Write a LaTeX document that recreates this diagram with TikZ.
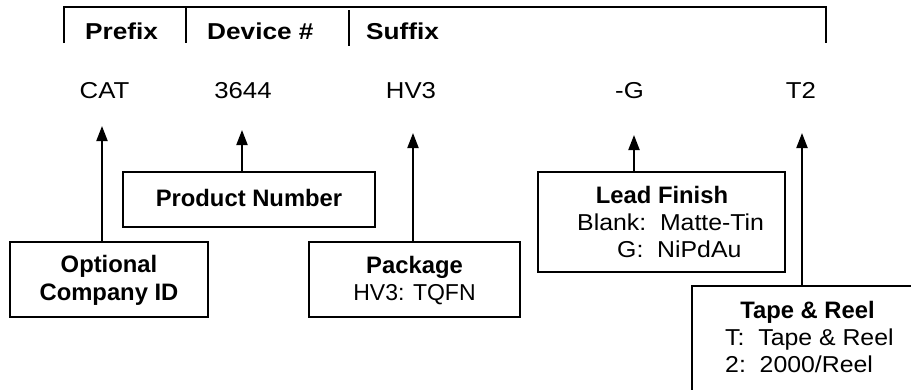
\documentclass[tikz,border=0pt]{standalone}
\usepackage{fontspec}
\setmainfont{Liberation Sans}
\newfontfamily\codefont[FakeStretch=1.12]{Liberation Sans}
\newfontfamily\hdrfont[FakeStretch=1.14]{Liberation Sans}
\newfontfamily\wfont[FakeStretch=1.08]{Liberation Sans}
\usetikzlibrary{arrows.meta}
\tikzset{
  boxnode/.style={draw=black, line width=2pt, rectangle, inner sep=0pt},
  code/.style={anchor=base, inner sep=0pt, font=\fontsize{23}{27}\codefont},
  txt/.style={anchor=base, inner sep=0pt, font=\fontsize{23}{27}\selectfont},
  txtl/.style={anchor=base west, inner sep=0pt, font=\fontsize{23}{27}\wfont},
  hdr/.style={anchor=base west, inner sep=0pt, font=\fontsize{23}{27}\hdrfont\bfseries},
  bold/.style={anchor=base, inner sep=0pt, font=\fontsize{23.8}{27}\selectfont\bfseries},
  arr/.style={line width=2pt, -{Triangle[width=11pt,length=15pt]}},
  bracket/.style={line width=2pt}
}
\begin{document}
\begin{tikzpicture}[x=1pt,y=-1pt]
\clip (0,0) rectangle (911,389);
\fill[white] (0,0) rectangle (911,389);
% header bracket
\draw[bracket] (64,43) -- (64,7) -- (826,7) -- (826,43);
\draw[bracket] (186,8) -- (186,43);
\draw[bracket] (349,10) -- (349,46);
\node[hdr] (hprefix) at (85,39) {Prefix};
\node[hdr] (hdevice) at (207,39) {Device \#};
\node[hdr] (hsuffix) at (366,39) {Suffix};
% codes
\node[code] (cat) at (104.5,98) {CAT};
\node[code] (num) at (243,98) {3644};
\node[code] (hv) at (411,98) {HV3};
\node[code] (g) at (629.5,98) {-G};
\node[code] (t2) at (801,98) {T2};
% arrow tips
\coordinate (tcat) at (102,126);
\coordinate (tnum) at (242,130);
\coordinate (thv) at (413,133);
\coordinate (tg) at (634,135);
\coordinate (tt2) at (802,133);
% boxes
\node[boxnode, minimum width=198pt, minimum height=75pt] (ocbox) at (109,279.5) {};
\node[boxnode, minimum width=252pt, minimum height=55pt] (pnbox) at (249,199.5) {};
\node[boxnode, minimum width=211pt, minimum height=75pt] (pkbox) at (414.5,279.5) {};
\node[boxnode, minimum width=247pt, minimum height=100pt] (lfbox) at (661.5,222) {};
\node[boxnode, minimum width=240pt, minimum height=130pt] (trbox) at (812,351) {};
% box texts
\node[bold] (oc1) at (109,272) {Optional};
\node[bold] (oc2) at (109,300) {Company ID};
\node[bold] (pn1) at (249,206) {Product Number};
\node[bold] (pk1) at (414.5,273) {Package};
\node[txt] (pk2) at (414.5,300) {HV3: TQFN};
\node[bold] (lf1) at (662,203) {Lead Finish};
\node[txtl] (lf2) at (577,230) {Blank:\ \ Matte-Tin};
\node[txtl] (lf3) at (617,257) {G:\ \ NiPdAu};
\node[bold] (tr1) at (807.5,318) {Tape \& Reel};
\node[txtl] (tr2) at (725,345) {T:\ \ Tape \& Reel};
\node[txtl] (tr3) at (725,372) {2:\ \ 2000/Reel};
% arrows
\draw[arr] (ocbox.north -| tcat) -- (tcat);
\draw[arr] (pnbox.north -| tnum) -- (tnum);
\draw[arr] (pkbox.north -| thv) -- (thv);
\draw[arr] (lfbox.north -| tg) -- (tg);
\draw[arr] (trbox.north -| tt2) -- (tt2);
\end{tikzpicture}
\end{document}
